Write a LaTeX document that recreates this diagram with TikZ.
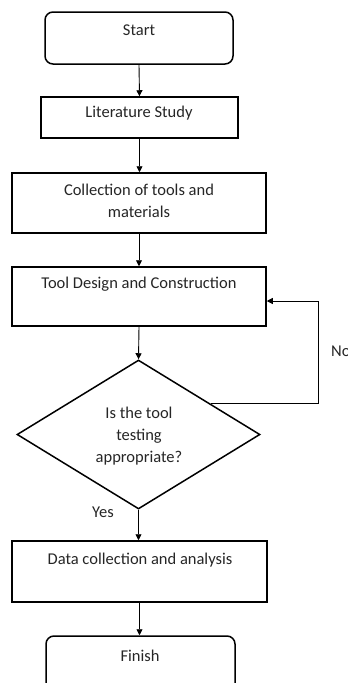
\documentclass[tikz,border=0pt]{standalone}
\usepackage{fontspec}
\setmainfont{Carlito}
\usetikzlibrary{shapes.geometric,arrows.meta,calc}
\begin{document}
\begin{tikzpicture}[x=1pt,y=-1pt,
  box/.style={draw=black,line width=1.5pt,inner sep=0pt,minimum width=#1},
  rbox/.style={draw=black,line width=1.5pt,inner sep=0pt,rounded corners=8pt},
  lbl/.style={font=\fontsize{16.5}{22}\selectfont,text=black!85,align=center,inner sep=0pt},
  arr/.style={draw=black,line width=0.9pt,-{Triangle[length=6pt,width=6pt]}},
  loopline/.style={draw=black,line width=0.8pt,-{Triangle[length=6pt,width=6pt]}}]
\useasboundingbox[fill=white] (0,0) rectangle (348,683);
% boxes
\node[rbox,minimum width=188pt,minimum height=52pt] (start) at (139,38) {};
\node[box=197pt,minimum height=41pt] (lit) at (139.5,117.5) {};
\node[box=254pt,minimum height=60pt] (coll) at (139,203) {};
\node[box=254pt,minimum height=59pt] (tool) at (139,296.5) {};
\node[draw=black,line width=1.5pt,shape=diamond,inner sep=0pt,minimum width=243pt,minimum height=149pt] (dia) at (138.5,434.5) {};
\node[box=255pt,minimum height=61pt] (data) at (139.5,571.5) {};
\node[rbox,minimum width=189pt,minimum height=62pt] (finish) at (140.5,667) {};
% texts
\node[lbl] (tstart) at (139,30) {Start};
\node[lbl] (tlit) at (139,113) {Literature Study};
\node[lbl] (tcoll) at (139,201) {Collection of tools and\\materials};
\node[lbl] (ttool) at (139,284) {Tool Design and Construction};
\node[lbl] (tdia) at (139,436.5) {Is the tool\\testing\\appropriate?};
\node[lbl] (tdata) at (140,560) {Data collection and analysis};
\node[lbl] (tfinish) at (140,656) {Finish};
\node[lbl,anchor=west] (tno) at (331,351) {No};
\node[lbl] (tyes) at (103,512) {Yes};
% connectors
\draw[arr] (start.south) -- (lit.north);
\draw[arr] (lit.north |- lit.south) -- (lit.north |- coll.north);
\draw[arr] (coll.south) -- (tool.north);
\draw[arr] (tool.south) -- (dia.north);
\draw[arr] (dia.south) -- (dia.south |- data.north);
\draw[arr] (data.south) -- (data.south |- finish.north);
\coordinate (p) at ($(dia.north)!0.59!(dia.east)$);
\coordinate (q) at ($(tool.east)+(0,4.5)$);
\draw[loopline] (p) -- ++(108,0) |- (q);
\end{tikzpicture}
\end{document}
